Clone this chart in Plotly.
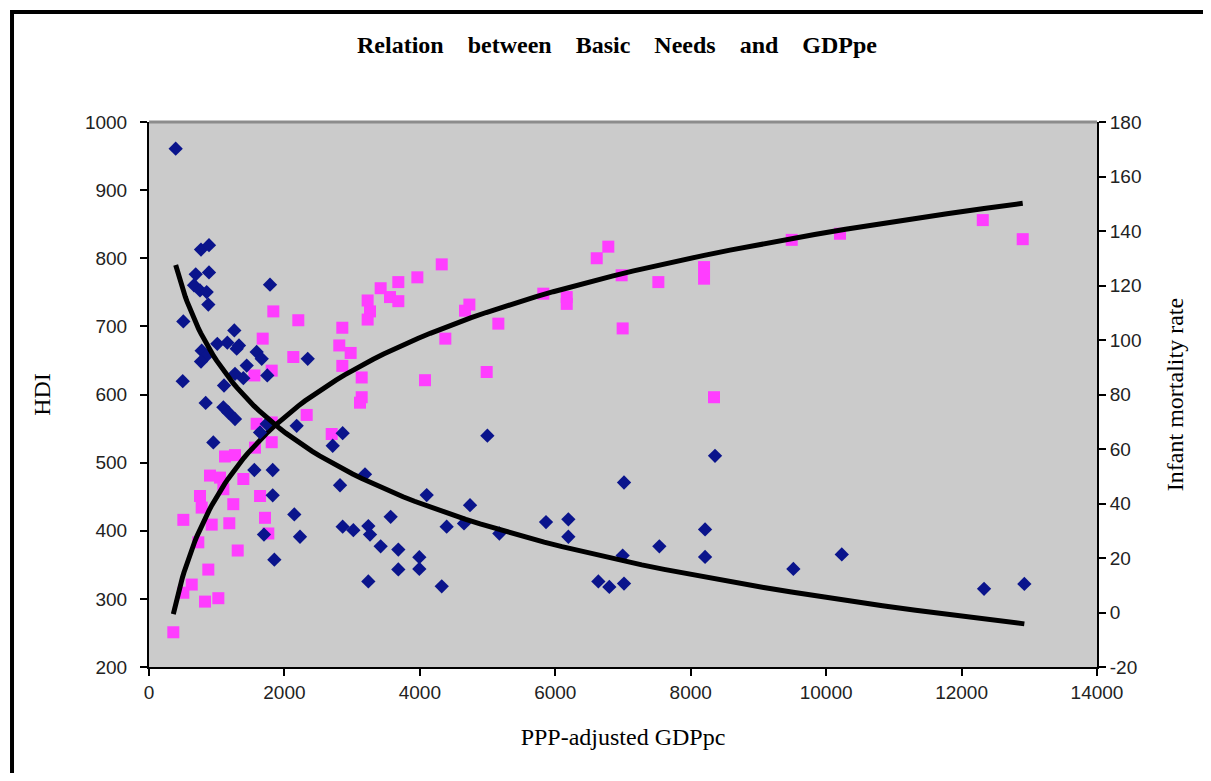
import numpy as np
import plotly.graph_objects as go

# ---- data ----
hdi_gdp = [4323, 3963, 3682, 3421, 3559, 3682, 3229, 3264, 3229, 1836, 2205, 2855, 4376, 1679,
           2810, 2978, 2131, 2855, 1812, 1556, 3141, 4076, 3141, 3116, 2329, 1590, 1812, 2698,
           1812, 1565, 1122, 1270, 901, 1049, 1393, 753, 1098, 1640, 778, 1245, 507, 926, 1186,
           1713, 1762, 728, 1310, 876, 631, 507, 827, 1024, 359, 4667, 4731, 5159, 4987, 5823,
           6169, 6169, 6612, 6783, 6980, 6995, 7522, 8197, 8197, 8344, 9492, 10205, 12313, 12903]
hdi_val = [791, 772, 765, 756, 743, 737, 738, 722, 710, 722, 709, 698, 682, 682,
           672, 661, 655, 642, 635, 628, 625, 621, 596, 588, 570, 557, 559, 542,
           530, 522, 509, 511, 481, 478, 476, 451, 461, 451, 434, 439, 416, 409, 411,
           419, 396, 383, 371, 343, 321, 309, 296, 301, 251, 723, 732, 704, 633, 748,
           743, 733, 800, 817, 775, 697, 765, 787, 770, 596, 827, 836, 856, 828]

imr_gdp = [394, 768, 886, 690, 886, 665, 753, 852, 876, 1787, 507, 1260, 1009, 1157, 1329, 1295,
           778, 852, 768, 1590, 1665, 1443, 1270, 1393, 1747, 2344, 498, 1108, 837, 1098, 1172,
           1270, 950, 1640, 1738, 2181, 2860, 2713, 1556, 1827, 1827, 2821, 3190, 4101, 2146,
           1698, 2230, 2860, 3018, 3239, 3264, 3569, 3421, 3682, 3992, 3992, 3682, 4396, 1851,
           3239, 4323, 4997, 8359, 7015, 4741, 4652, 5174, 5863, 6193, 6193, 6995, 7537, 8212,
           8212, 6636, 6798, 7015, 9516, 10231, 12332, 12927]
imr_val = [170.2, 133.2, 134.8, 124.1, 124.8, 120.1, 118.2, 117.6, 113, 120.3, 106.8, 103.5, 98.6,
           99, 98, 96.8, 96.1, 94.3, 92.1, 95.6, 93.1, 90.6, 87.6, 86, 87, 93.1, 84.9, 83.3, 76.9,
           75.3, 73.4, 71, 62.4, 66.1, 69.2, 68.5, 65.8, 61.2, 52.3, 52.3, 43, 46.7, 50.7, 43.1, 36,
           28.6, 27.8, 31.5, 30.2, 31.7, 28.6, 35.1, 24.3, 23.1, 20.3, 16, 15.8, 31.5, 19.4,
           11.4, 9.6, 64.9, 57.5, 47.7, 39.4, 32.7, 29, 33.2, 34.2, 27.8, 20.9, 24.3, 30.5,
           20.4, 11.4, 9.4, 10.6, 16, 21.3, 8.7, 10.5]

x_ticks = [0, 2000, 4000, 6000, 8000, 10000, 12000, 14000]
hdi_ticks = [200, 300, 400, 500, 600, 700, 800, 900, 1000]
imr_ticks = [-20, 0, 20, 40, 60, 80, 100, 120, 140, 160, 180]


def log_trend(xs, ys):
    xs = np.asarray(xs, float)
    ys = np.asarray(ys, float)
    b, a = np.polyfit(np.log(xs), ys, 1)
    xt = np.geomspace(xs.min(), xs.max(), 80)
    return xt, a + b * np.log(xt)


hx, hy = log_trend(hdi_gdp, hdi_val)
ix, iy = log_trend(imr_gdp, imr_val)

fig = go.Figure()
fig.add_trace(go.Scatter(x=hdi_gdp, y=hdi_val, mode="markers", name="HDI",
                         marker=dict(symbol="square", size=12, color="#FF3DFF", line=dict(width=0))))
fig.add_trace(go.Scatter(x=imr_gdp, y=imr_val, mode="markers", name="Infant mortality rate", yaxis="y2",
                         marker=dict(symbol="diamond", size=11, color="#0A148C", line=dict(width=0))))
fig.add_trace(go.Scatter(x=hx, y=hy, mode="lines", showlegend=False,
                         line=dict(color="black", width=5)))
fig.add_trace(go.Scatter(x=ix, y=iy, mode="lines", showlegend=False, yaxis="y2",
                         line=dict(color="black", width=5)))

axis_common = dict(showgrid=False, zeroline=False, showline=True, linecolor="black", linewidth=2,
                   ticks="outside", ticklen=7, tickwidth=2, tickcolor="black",
                   tickfont=dict(family="Liberation Sans", size=19, color="#222"))
title_font = dict(family="Liberation Serif", size=24, color="black")

sp = "&nbsp;&nbsp;&nbsp;&nbsp;"
title_text = "<b>" + sp.join(["Relation", "between", "Basic", "Needs", "and", "GDPpe"]) + "</b>"

fig.update_layout(
    width=1195, height=765,
    margin=dict(l=141, r=106, t=114, b=106),
    paper_bgcolor="white", plot_bgcolor="#CBCBCB",
    showlegend=False,
    title=dict(text=title_text,
               x=0.4937, xref="paper", xanchor="center", y=0.9516, yanchor="middle",
               font=dict(family="Liberation Serif", size=24, color="black")),
    xaxis=dict(range=[0, 14000], tickvals=x_ticks, ticktext=[str(v) for v in x_ticks], **axis_common,
               title=dict(text="PPP-adjusted GDPpc", standoff=26, font=title_font)),
    yaxis=dict(range=[200, 1000], tickvals=hdi_ticks, ticktext=[str(v) for v in hdi_ticks], **axis_common,
               ticklabelstandoff=9,
               title=dict(text="HDI", standoff=28, font=title_font)),
    yaxis2=dict(range=[-20, 180], tickvals=imr_ticks, ticktext=[str(v) for v in imr_ticks],
                overlaying="y", side="right", **axis_common,
                title=dict(text="Infant mortality rate", standoff=26, font=title_font)),
    shapes=[
        dict(type="line", xref="paper", yref="paper", x0=0, x1=1, y0=1, y1=1,
             line=dict(color="#8C8C8C", width=3)),
        dict(type="line", xref="paper", yref="paper", x0=-0.1445, x1=1.3, y0=1.2018, y1=1.2018,
             line=dict(color="black", width=4), layer="above"),
        dict(type="line", xref="paper", yref="paper", x0=-0.1445, x1=-0.1445, y0=-0.4, y1=1.2055,
             line=dict(color="black", width=4), layer="above"),
    ],
)

fig.write_html("out.html")
